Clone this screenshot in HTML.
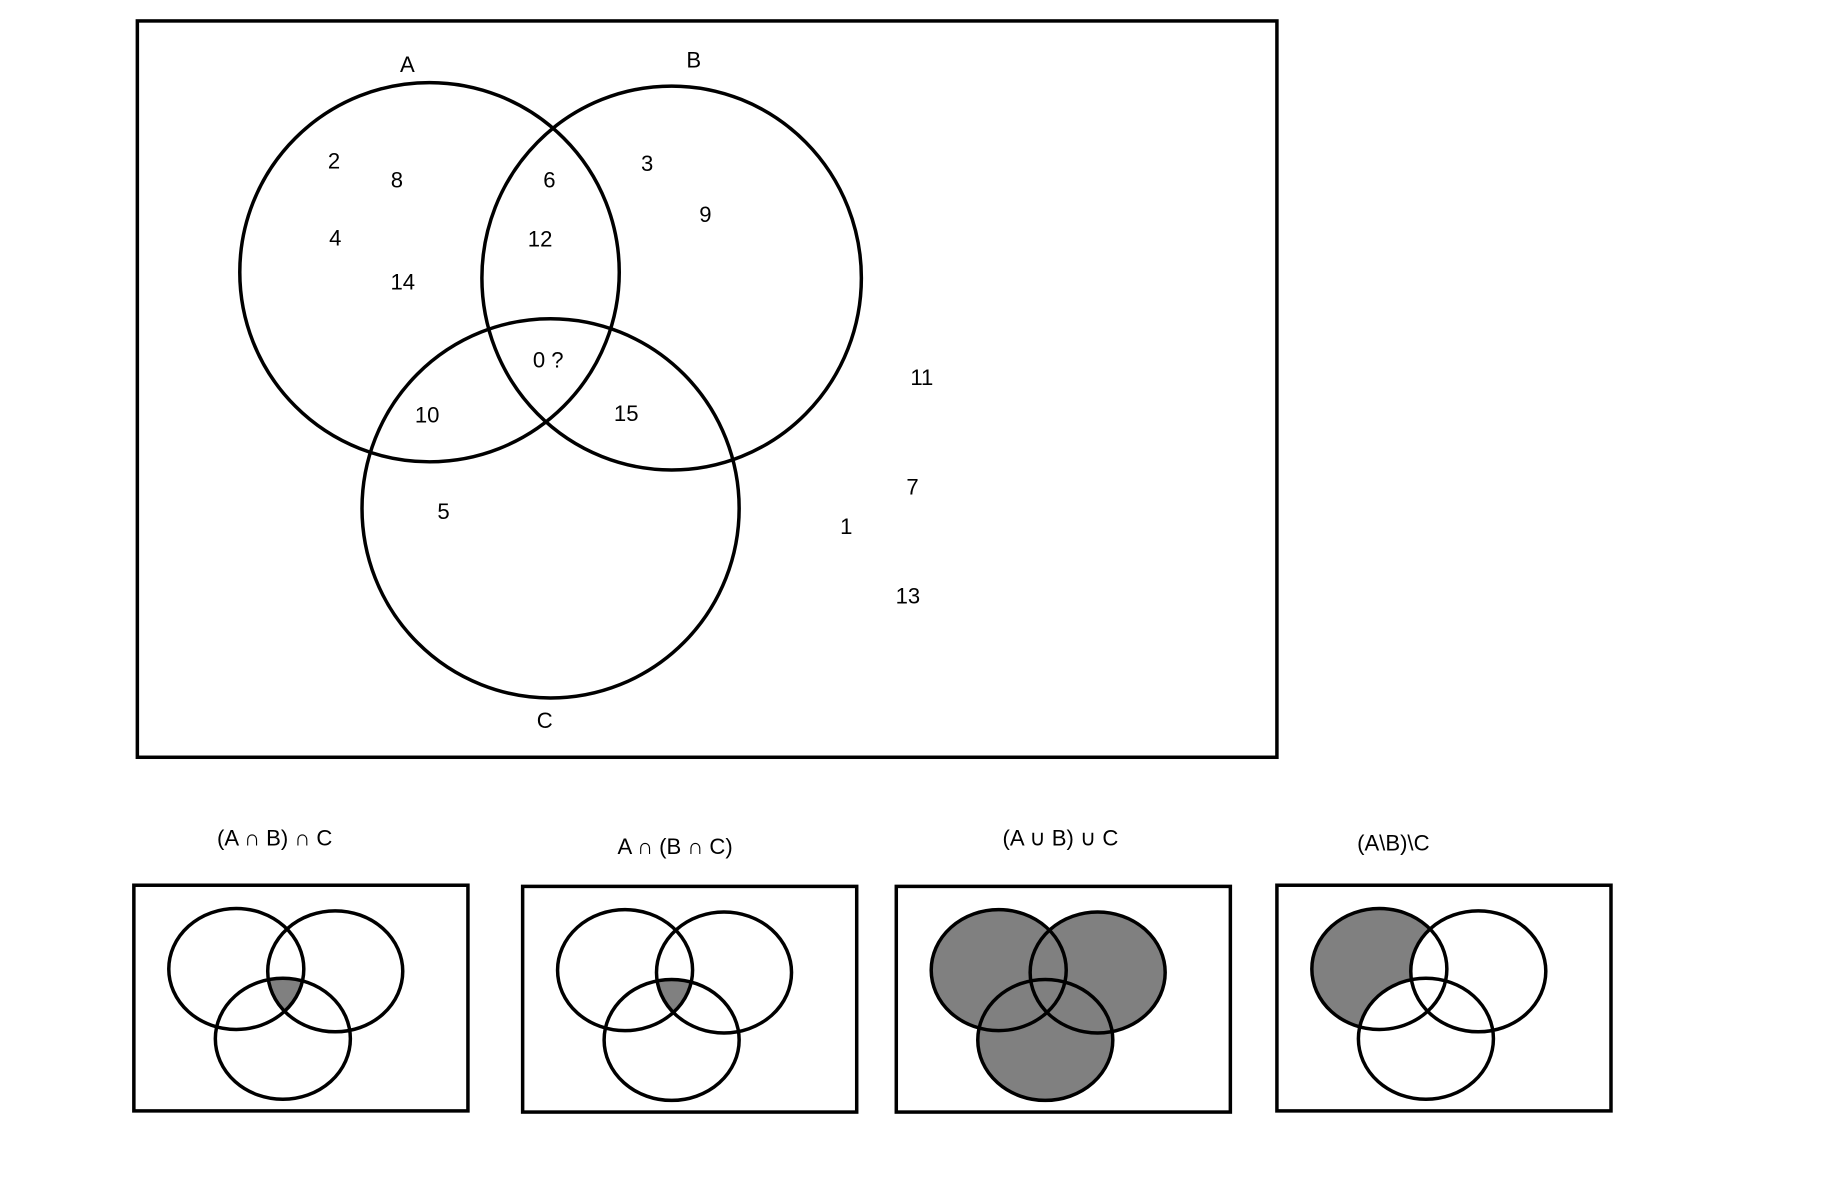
<!DOCTYPE html>
<html><head><meta charset="utf-8"><style>html,body{margin:0;padding:0;background:#fff}svg{display:block}</style></head>
<body>
<svg width="1824" height="1190" viewBox="0 0 1567 1023" preserveAspectRatio="none" xmlns="http://www.w3.org/2000/svg" font-family="Liberation Sans, sans-serif" font-size="19">
<defs>
<clipPath id="cA"><ellipse cx="88" cy="72" rx="58" ry="52"/></clipPath>
<clipPath id="cB"><ellipse cx="173" cy="74" rx="58" ry="52"/></clipPath>
</defs>
<rect x="118" y="18" width="979" height="633" fill="none" stroke="#000" stroke-width="3"/>
<g fill="none" stroke="#000" stroke-width="3">
<ellipse cx="369" cy="234" rx="163" ry="163"/>
<ellipse cx="577" cy="239" rx="163" ry="165"/>
<ellipse cx="473" cy="437" rx="162" ry="163"/>
</g>
<g text-anchor="middle" dominant-baseline="middle">
<text x="350" y="57">A</text><text x="596" y="53">B</text><text x="468" y="621">C</text>
<text x="287" y="140">2</text><text x="341" y="156">8</text><text x="472" y="156">6</text>
<text x="556" y="142">3</text><text x="606" y="186">9</text><text x="288" y="206">4</text>
<text x="464" y="207">12</text><text x="346" y="244">14</text><text x="471" y="311">0 ?</text>
<text x="792" y="326">11</text><text x="367" y="358">10</text><text x="538" y="357">15</text>
<text x="784" y="420">7</text><text x="727" y="454">1</text><text x="381" y="441">5</text>
<text x="780" y="514">13</text>
<text x="236" y="722">(A ∩ B) ∩ C</text>
<text x="580" y="729">A ∩ (B ∩ C)</text>
<text x="911" y="722">(A ∪ B) ∪ C</text>
<text x="1197" y="726">(A\B)\C</text>
</g>
<g transform="translate(115,761)">
<rect x="0" y="0" width="287" height="194" fill="none" stroke="#000" stroke-width="3"/>
<g clip-path="url(#cA)"><g clip-path="url(#cB)"><ellipse cx="128" cy="132" rx="58" ry="52" fill="#808080"/></g></g>
<g fill="none" stroke="#000" stroke-width="3"><ellipse cx="88" cy="72" rx="58" ry="52"/><ellipse cx="173" cy="74" rx="58" ry="52"/><ellipse cx="128" cy="132" rx="58" ry="52"/></g>
</g>
<g transform="translate(449,762)">
<rect x="0" y="0" width="287" height="194" fill="none" stroke="#000" stroke-width="3"/>
<g clip-path="url(#cA)"><g clip-path="url(#cB)"><ellipse cx="128" cy="132" rx="58" ry="52" fill="#808080"/></g></g>
<g fill="none" stroke="#000" stroke-width="3"><ellipse cx="88" cy="72" rx="58" ry="52"/><ellipse cx="173" cy="74" rx="58" ry="52"/><ellipse cx="128" cy="132" rx="58" ry="52"/></g>
</g>
<g transform="translate(770,762)">
<rect x="0" y="0" width="287" height="194" fill="none" stroke="#000" stroke-width="3"/>
<g fill="#808080"><ellipse cx="88" cy="72" rx="58" ry="52"/><ellipse cx="173" cy="74" rx="58" ry="52"/><ellipse cx="128" cy="132" rx="58" ry="52"/></g>
<g fill="none" stroke="#000" stroke-width="3"><ellipse cx="88" cy="72" rx="58" ry="52"/><ellipse cx="173" cy="74" rx="58" ry="52"/><ellipse cx="128" cy="132" rx="58" ry="52"/></g>
</g>
<g transform="translate(1097,761)">
<rect x="0" y="0" width="287" height="194" fill="none" stroke="#000" stroke-width="3"/>
<ellipse cx="88" cy="72" rx="58" ry="52" fill="#808080"/>
<ellipse cx="173" cy="74" rx="58" ry="52" fill="#fff"/><ellipse cx="128" cy="132" rx="58" ry="52" fill="#fff"/>
<g fill="none" stroke="#000" stroke-width="3"><ellipse cx="88" cy="72" rx="58" ry="52"/><ellipse cx="173" cy="74" rx="58" ry="52"/><ellipse cx="128" cy="132" rx="58" ry="52"/></g>
</g>
</svg>
</body></html>
